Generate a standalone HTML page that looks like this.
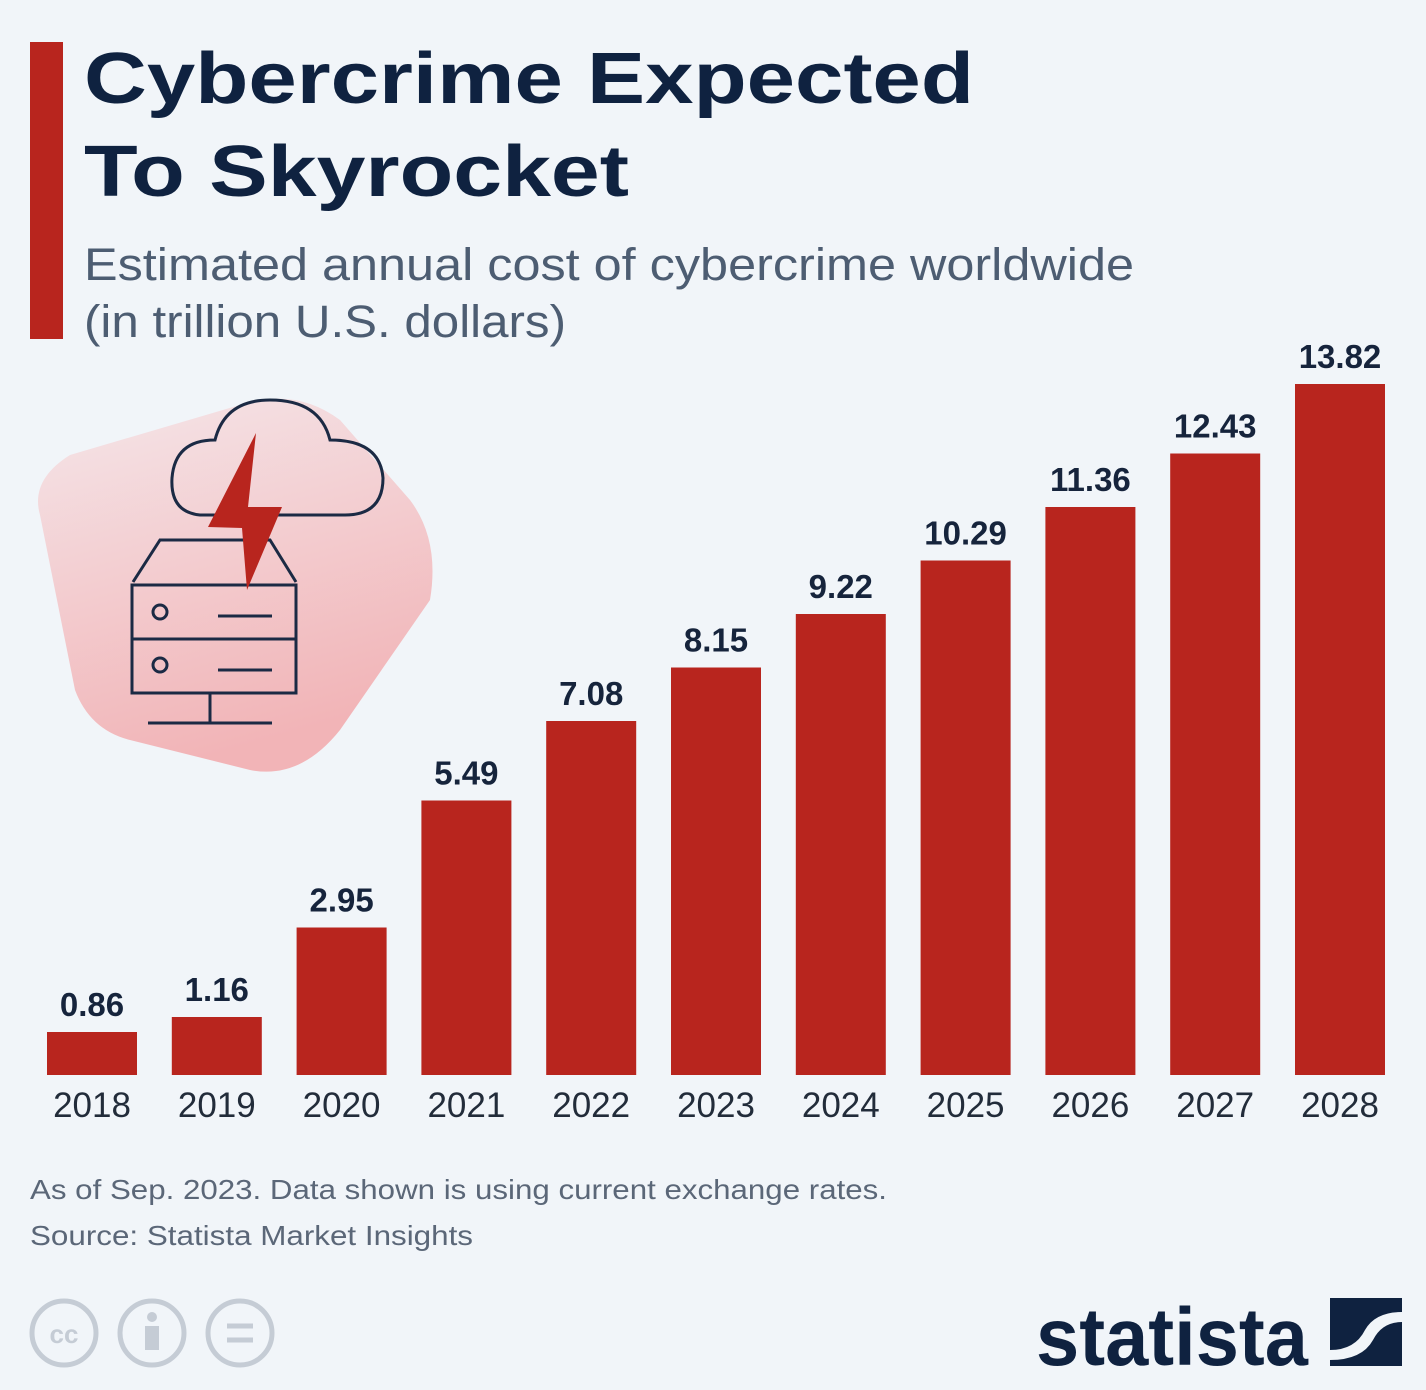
<!DOCTYPE html>
<html><head><meta charset="utf-8"><style>
body{margin:0;width:1426px;height:1390px;background:#f1f5f9;overflow:hidden;font-family:"Liberation Sans","DejaVu Sans",sans-serif}
svg{display:block}
</style></head><body>
<svg width="1426" height="1390" viewBox="0 0 1426 1390">
<defs><linearGradient id="pg" x1="0" y1="0" x2="0.3" y2="1"><stop offset="0" stop-color="#f4e6e9"/><stop offset="1" stop-color="#f2b4b7"/></linearGradient></defs>
<rect x="30" y="42" width="33" height="297" fill="#b8251e"/>
<text x="84" y="103" font-size="72" font-weight="bold" fill="#0f2240" textLength="890" lengthAdjust="spacingAndGlyphs">Cybercrime Expected</text>
<text x="84" y="196" font-size="72" font-weight="bold" fill="#0f2240" textLength="545" lengthAdjust="spacingAndGlyphs">To Skyrocket</text>
<text x="84" y="280" font-size="45" fill="#4d5d72" textLength="1050" lengthAdjust="spacingAndGlyphs">Estimated annual cost of cybercrime worldwide</text>
<text x="84" y="337" font-size="45" fill="#4d5d72" textLength="482" lengthAdjust="spacingAndGlyphs">(in trillion U.S. dollars)</text>
<g>
<path d="M40,515 Q30,480 70,455 L250,402 Q300,390 340,420 L410,500 Q440,540 430,600 L340,730 Q300,780 250,770 L130,740 Q90,730 75,690 Z" fill="url(#pg)"/>
<path d="M200,515 Q170,512 172,478 Q175,440 215,440 Q225,400 270,400 Q320,400 330,440 Q380,440 383,478 Q383,515 345,515 Z" fill="none" stroke="#1b2a44" stroke-width="3"/>
<path d="M133,582 L160,540 L270,540 L296,582 M132,585 H296 V693 H132 Z M132,639 H296 M210,693 V723 M148,723 H272 M218,616 H272 M218,670 H272" fill="none" stroke="#1b2a44" stroke-width="3"/>
<circle cx="160" cy="612" r="7" fill="none" stroke="#1b2a44" stroke-width="3"/>
<circle cx="160" cy="665" r="7" fill="none" stroke="#1b2a44" stroke-width="3"/>
<polygon points="256,433 208,527 242,528 247,590 282,507 248,507" fill="#b8251e"/>
</g>
<g id="bars"></g>
<text x="30" y="1199" font-size="28" fill="#5b6778" textLength="857" lengthAdjust="spacingAndGlyphs">As of Sep. 2023. Data shown is using current exchange rates.</text>
<text x="30" y="1245" font-size="28" fill="#5b6778" textLength="443" lengthAdjust="spacingAndGlyphs">Source: Statista Market Insights</text>
<g fill="none" stroke="#c5ccd5" stroke-width="5">
<circle cx="64" cy="1333" r="32"/><circle cx="152" cy="1333" r="32"/><circle cx="240" cy="1333" r="32"/>
<text x="64" y="1343" font-size="26" font-weight="bold" fill="#c5ccd5" stroke="none" text-anchor="middle">cc</text>
<circle cx="152" cy="1317" r="5" fill="#c5ccd5" stroke="none"/><rect x="145" y="1326" width="14" height="24" fill="#c5ccd5" stroke="none"/>
<path d="M227,1326 H253 M227,1340 H253"/>
</g>
<text x="1036" y="1365" font-size="82" font-weight="bold" fill="#0f2240" textLength="272" lengthAdjust="spacingAndGlyphs">statista</text>
<g><rect x="1330" y="1298" width="72" height="68" fill="#0f2240"/><path d="M1330,1350 Q1355,1350 1365,1330 Q1375,1312 1402,1312 L1402,1322 Q1382,1322 1373,1340 Q1362,1360 1330,1360 Z" fill="#f1f5f9"/></g>
</svg>
<script>
const categories=["2018","2019","2020","2021","2022","2023","2024","2025","2026","2027","2028"];
const values=[0.86,1.16,2.95,5.49,7.08,8.15,9.22,10.29,11.36,12.43,13.82];
const labels=["0.86","1.16","2.95","5.49","7.08","8.15","9.22","10.29","11.36","12.43","13.82"];
const NS="http://www.w3.org/2000/svg";
const base=1075, scale=50, x0=47, pitch=124.8, bw=90;
const y=v=>base-v*scale, x=i=>x0+i*pitch;
const g=document.getElementById('bars');
values.forEach((v,i)=>{
  const r=document.createElementNS(NS,'rect');
  r.setAttribute('x',x(i));r.setAttribute('y',y(v));r.setAttribute('width',bw);r.setAttribute('height',base-y(v));r.setAttribute('fill','#b8251e');
  
  
  g.appendChild(r);
  const t=document.createElementNS(NS,'text');
  t.setAttribute('x',x(i)+bw/2);t.setAttribute('y',y(v)-16);t.setAttribute('text-anchor','middle');t.setAttribute('font-size','33');t.setAttribute('font-weight','bold');t.setAttribute('fill','#16243c');
  t.textContent=labels[i];
  
  
  g.appendChild(t);
  const c=document.createElementNS(NS,'text');
  c.setAttribute('x',x(i)+bw/2);c.setAttribute('y',1117);c.setAttribute('text-anchor','middle');c.setAttribute('font-size','35');c.setAttribute('fill','#222c3a');
  c.textContent=categories[i];
  
  
  g.appendChild(c);
});
</script>
</body></html>
